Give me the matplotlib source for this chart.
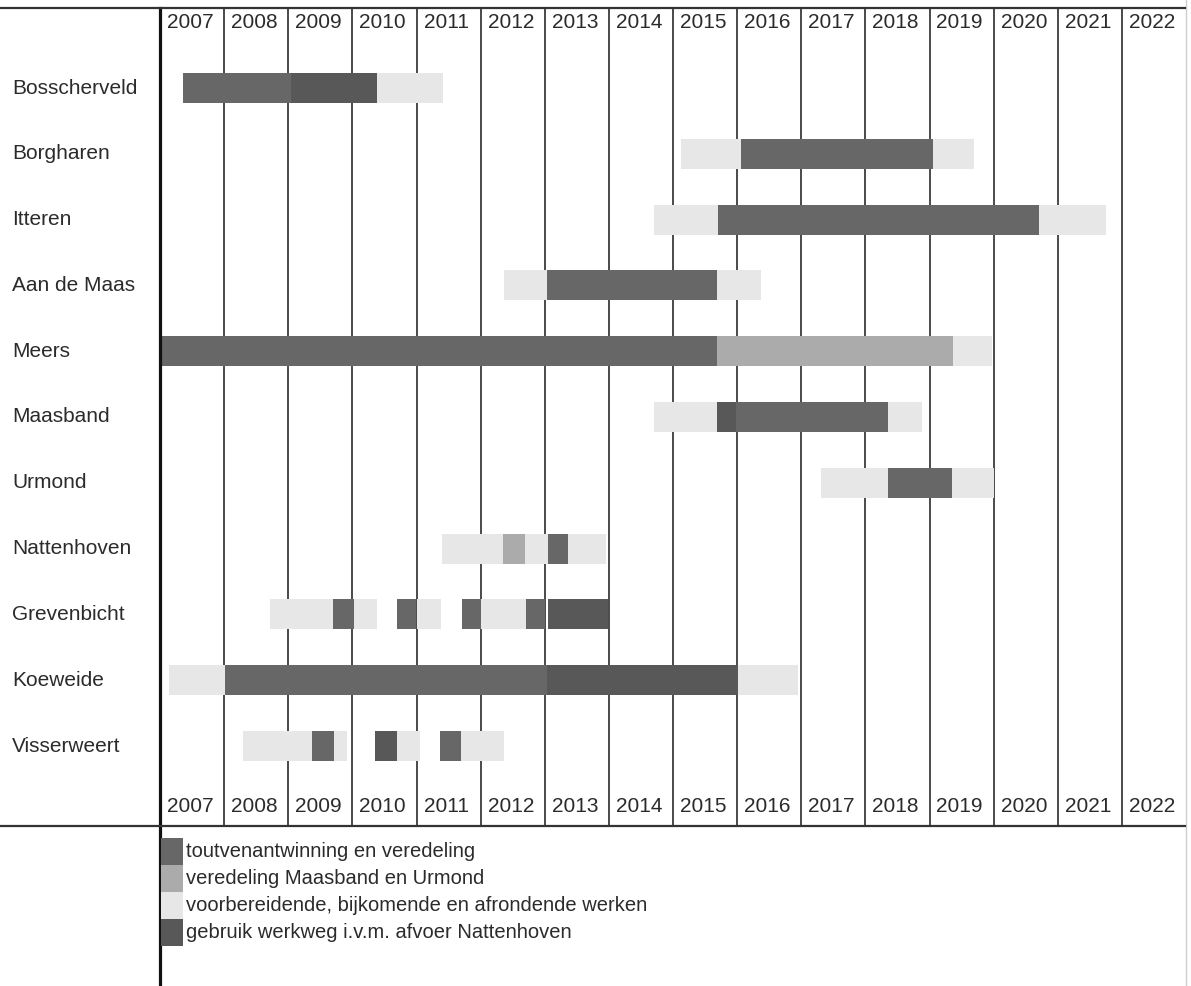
import matplotlib
matplotlib.use("Agg")
import matplotlib.pyplot as plt
from matplotlib.lines import Line2D
from matplotlib.patches import Rectangle
from matplotlib.transforms import blended_transform_factory

plt.rcParams['font.family'] = ['Liberation Sans', 'DejaVu Sans']

# ---------------- data ----------------
projects = ['Bosscherveld', 'Borgharen', 'Itteren', 'Aan de Maas', 'Meers',
            'Maasband', 'Urmond', 'Nattenhoven', 'Grevenbicht', 'Koeweide',
            'Visserweert']
years = list(range(2007, 2023))

legend_labels = ['toutvenantwinning en veredeling',
                 'veredeling Maasband en Urmond',
                 'voorbereidende, bijkomende en afrondende werken',
                 'gebruik werkweg i.v.m. afvoer Nattenhoven']

# toutvenantwinning en veredeling
tout_proj  = ['Bosscherveld', 'Borgharen', 'Itteren', 'Aan de Maas', 'Meers',
              'Maasband', 'Urmond', 'Nattenhoven', 'Grevenbicht', 'Grevenbicht',
              'Grevenbicht', 'Grevenbicht', 'Koeweide', 'Visserweert', 'Visserweert']
tout_start = [2007.36, 2016.06, 2015.70, 2013.03, 2007.00,
              2015.99, 2018.35, 2013.05, 2009.70, 2010.70,
              2011.71, 2012.70, 2008.01, 2009.37, 2011.37]
tout_end   = [2009.05, 2019.05, 2020.70, 2015.69, 2015.69,
              2018.35, 2019.35, 2013.36, 2010.02, 2011.00,
              2012.01, 2013.00, 2013.03, 2009.71, 2011.69]

# veredeling Maasband en Urmond
vered_proj  = ['Meers', 'Nattenhoven']
vered_start = [2015.69, 2012.35]
vered_end   = [2019.36, 2012.69]

# voorbereidende, bijkomende en afrondende werken
voor_proj  = ['Bosscherveld', 'Borgharen', 'Borgharen', 'Itteren', 'Itteren',
              'Aan de Maas', 'Aan de Maas', 'Meers', 'Maasband', 'Maasband',
              'Urmond', 'Urmond', 'Nattenhoven', 'Nattenhoven', 'Nattenhoven',
              'Grevenbicht', 'Grevenbicht', 'Grevenbicht', 'Grevenbicht',
              'Koeweide', 'Koeweide',
              'Visserweert', 'Visserweert', 'Visserweert', 'Visserweert']
voor_start = [2010.38, 2015.12, 2019.05, 2014.70, 2020.70,
              2012.36, 2015.69, 2019.36, 2014.70, 2018.35,
              2017.31, 2019.35, 2011.40, 2012.69, 2013.36,
              2008.72, 2010.02, 2011.00, 2012.01,
              2007.14, 2016.02,
              2008.30, 2009.71, 2010.70, 2011.69]
voor_end   = [2011.42, 2016.06, 2019.70, 2015.70, 2021.75,
              2013.03, 2016.38, 2019.98, 2015.69, 2018.88,
              2018.35, 2020.00, 2012.35, 2013.05, 2013.95,
              2009.70, 2010.39, 2011.38, 2012.70,
              2008.01, 2016.95,
              2009.37, 2009.92, 2011.06, 2012.36]

# gebruik werkweg i.v.m. afvoer Nattenhoven
werk_proj  = ['Bosscherveld', 'Maasband', 'Grevenbicht', 'Koeweide', 'Visserweert']
werk_start = [2009.05, 2015.69, 2013.05, 2013.03, 2010.36]
werk_end   = [2010.38, 2015.99, 2013.98, 2016.02, 2010.70]

# ---------------- styling ----------------
W, H = 1191, 986
C_TOUT = '#676767'
C_VERED = '#ababab'
C_VOOR = '#e7e7e7'
C_WERK = '#585858'
TXT = '#2b2b2b'
FS = 15

def fx(px):
    return px / W

def fy(py):
    return 1 - py / H

fig = plt.figure(figsize=(W / 100, H / 100), dpi=100)
fig.patch.set_facecolor('white')

ax = fig.add_axes([fx(160), fy(826), (1186 - 160) / W, (826 - 8) / H])
row_px = 65.8
y_top = -(88 - 8) / row_px
y_bot = (826 - 88) / row_px
ax.set_xlim(2007, 2023)
ax.set_ylim(y_bot, y_top)
ax.axis('off')

row_of = {p: i for i, p in enumerate(projects)}
bar_h = 30 / row_px

# year separators
for yr in years[1:]:
    ax.axvline(yr, color='#4a4a4a', lw=1.4, zorder=1)
ax.axvline(2023, color='#cfcfcf', lw=1.0, ymin=-0.2, ymax=1.02, clip_on=False, zorder=1)
ax.axvline(2007, color='#111111', lw=2.3, ymin=-0.2, ymax=1.0, clip_on=False, zorder=3)

# bars
for proj, st, en, col in [(tout_proj, tout_start, tout_end, C_TOUT),
                          (vered_proj, vered_start, vered_end, C_VERED),
                          (voor_proj, voor_start, voor_end, C_VOOR),
                          (werk_proj, werk_start, werk_end, C_WERK)]:
    ax.barh([row_of[p] for p in proj], [e - s for s, e in zip(st, en)],
            left=st, height=bar_h, color=col, edgecolor='none', zorder=2)

# year labels top & bottom
y_lab_top = -(88 - 23) / row_px
y_lab_bot = (806 - 88) / row_px
for yr in years:
    ax.text(yr + 0.47, y_lab_top, str(yr), ha='center', va='center',
            fontsize=FS, color=TXT, zorder=4)
    ax.text(yr + 0.47, y_lab_bot, str(yr), ha='center', va='center',
            fontsize=FS, color=TXT, zorder=4)

# project labels
tr = blended_transform_factory(fig.transFigure, ax.transData)
for i, p in enumerate(projects):
    ax.text(fx(12), i, p, transform=tr, ha='left', va='center',
            fontsize=FS, color=TXT)

# horizontal rules
fig.add_artist(Line2D([0, fx(1185)], [fy(8), fy(8)], color='#333333', lw=1.6,
                      transform=fig.transFigure))
fig.add_artist(Line2D([0, fx(1185)], [fy(826), fy(826)], color='#333333', lw=1.6,
                      transform=fig.transFigure))

# legend
leg_cols = [C_TOUT, C_VERED, C_VOOR, C_WERK]
for i, (lab, col) in enumerate(zip(legend_labels, leg_cols)):
    top = 838 + 27 * i
    fig.add_artist(Rectangle((fx(161), fy(top + 27)), 22 / W, 27 / H,
                             transform=fig.transFigure, facecolor=col,
                             edgecolor='none'))
    fig.text(fx(186), fy(top + 13.5), lab, ha='left', va='center',
             fontsize=14.5, color=TXT)

fig.savefig('out.png', dpi=100, facecolor='white')
